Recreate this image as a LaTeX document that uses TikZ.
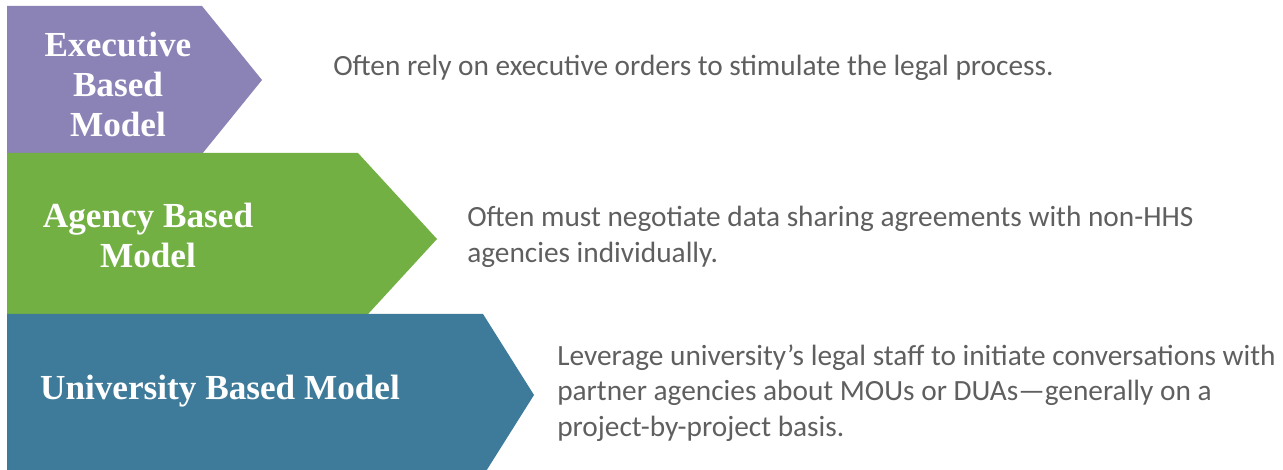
\documentclass[tikz,border=0pt]{standalone}
\usepackage{fontspec}
\setmainfont{Carlito}
\newfontfamily\rotulofont{Liberation Serif}

\definecolor{morado}{RGB}{139,130,182}
\definecolor{verde}{RGB}{114,176,67}
\definecolor{azul}{RGB}{62,122,153}
\definecolor{gristexto}{RGB}{95,95,95}

\tikzset{
  rotulo/.style={text=white, inner sep=0pt, align=center,
    font=\rotulofont\bfseries\fontsize{26.4}{30}\selectfont},
  descripcion/.style={text=gristexto, inner sep=0pt, align=left, anchor=west,
    font=\fontsize{22}{26.6}\selectfont}
}

\begin{document}
\begin{tikzpicture}[x=0.75pt, y=-0.75pt]

    \useasboundingbox (0, 0) rectangle (1283, 470);

    % Flechas
    \fill[morado] (7, 6) -- (202, 6) -- (262, 80) -- (202, 154) -- (7, 154) -- cycle;
    \fill[verde] (7, 153) -- (358, 153) -- (437, 239) -- (358, 325) -- (7, 325) -- cycle;
    \fill[azul] (7, 314) -- (483, 314) -- (534, 395) -- (483, 476) -- (7, 476) -- cycle;

    % Nombres de los modelos
    \node[rotulo] (ejecutivo) at (118, 84) {Executive\\Based\\Model};
    \node[rotulo] (agencia) at (148, 235) {Agency Based\\Model};
    \node[rotulo] (universidad) at (220, 391) {University Based Model};

    % Descripciones
    \node[descripcion] (descEjecutivo) at (333, 68)
      {Often rely on executive orders to stimulate the legal process.};
    \node[descripcion] (descAgencia) at (467, 237)
      {Often must negotiate data sharing agreements with non-HHS\\agencies individually.};
    \node[descripcion] (descUniversidad) at (557, 393)
      {Leverage university’s legal staff to initiate conversations with\\partner agencies about MOUs or DUAs—generally on a\\project-by-project basis.};

  \end{tikzpicture}
\end{document}
